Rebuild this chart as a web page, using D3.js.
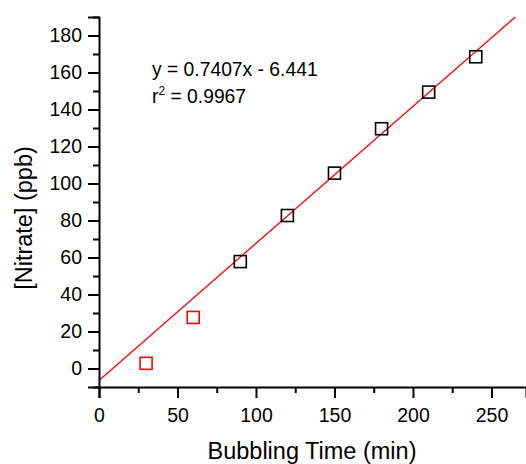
<!DOCTYPE html>
<html><head><meta charset="utf-8">
<script src="https://cdn.jsdelivr.net/npm/d3@7"></script>
<style>body{margin:0;background:#fff}svg{display:block;font-family:Arial,"Liberation Sans",sans-serif}</style>
</head><body><svg id="c" width="526" height="464"></svg>
<script>
const blackX = [90, 120, 150, 180, 210, 240];
const blackY = [57.8, 82.7, 105.6, 129.6, 149.4, 168.5];
const redX = [30, 60];
const redY = [2.8, 27.6];
const slope = 0.7407, intercept = -6.441;
const xTicks = [0, 50, 100, 150, 200, 250];
const yTicks = [0, 20, 40, 60, 80, 100, 120, 140, 160, 180];

const svg = d3.select("#c");
const x = d3.scaleLinear().domain([0, 272]).range([99, 526]);
const y = d3.scaleLinear().domain([-10, 190]).range([387, 17]);

// fit line
const xEnd = (190 - intercept) / slope;
svg.append("line")
  .attr("x1", x(0)).attr("y1", y(intercept))
  .attr("x2", x(xEnd)).attr("y2", y(190))
  .attr("stroke", "#ff0000").attr("stroke-width", 1.3);

// axes
const xAxis = svg.append("g").attr("transform", `translate(0,${y(-10)})`)
  .call(d3.axisBottom(x).tickValues(xTicks).tickSize(11).tickPadding(10).tickFormat(d3.format("d")));
const xMinor = svg.append("g").attr("transform", `translate(0,${y(-10)})`)
  .call(d3.axisBottom(x).tickValues(d3.range(25, 272, 50)).tickSize(6).tickFormat(""));
const yAxis = svg.append("g").attr("transform", `translate(${x(0)},0)`)
  .call(d3.axisLeft(y).tickValues(yTicks).tickSize(11).tickPadding(6).tickFormat(d3.format("d")));
const yMinor = svg.append("g").attr("transform", `translate(${x(0)},0)`)
  .call(d3.axisLeft(y).tickValues(d3.range(-10, 191, 20)).tickSize(6).tickFormat(""));
[xAxis, xMinor, yAxis, yMinor].forEach(g => {
  g.select(".domain").attr("stroke", "#000").attr("stroke-width", 2);
  g.selectAll(".tick line").attr("stroke", "#000").attr("stroke-width", 2);
  g.selectAll(".tick text").attr("font-size", 19.5).attr("fill", "#000")
    .attr("font-family", "Arial, 'Liberation Sans', sans-serif");
});
xMinor.select(".domain").remove();
yMinor.select(".domain").remove();

// points
const sz = 12;
svg.append("g").selectAll("rect").data(blackX.map((d, i) => [d, blackY[i]])).join("rect")
  .attr("x", d => x(d[0]) - sz / 2).attr("y", d => y(d[1]) - sz / 2)
  .attr("width", sz).attr("height", sz)
  .attr("fill", "none").attr("stroke", "#000").attr("stroke-width", 1.6);
svg.append("g").selectAll("rect").data(redX.map((d, i) => [d, redY[i]])).join("rect")
  .attr("x", d => x(d[0]) - sz / 2).attr("y", d => y(d[1]) - sz / 2)
  .attr("width", sz).attr("height", sz)
  .attr("fill", "none").attr("stroke", "#ff0000").attr("stroke-width", 1.6);

// annotations
svg.append("text").attr("x", 152).attr("y", 76).attr("font-size", 19.3)
  .text("y = 0.7407x - 6.441");
const r = svg.append("text").attr("x", 152).attr("y", 103).attr("font-size", 19.3);
r.append("tspan").text("r");
r.append("tspan").attr("dy", -8).attr("font-size", 12).text("2");
r.append("tspan").attr("dy", 8).text(" = 0.9967");

// axis titles
svg.append("text").attr("x", 312).attr("y", 459).attr("text-anchor", "middle")
  .attr("font-size", 23.5).text("Bubbling Time (min)");
svg.append("text").attr("transform", `translate(32,218) rotate(-90)`)
  .attr("text-anchor", "middle").attr("font-size", 23.5).text("[Nitrate] (ppb)");
</script></body></html>
